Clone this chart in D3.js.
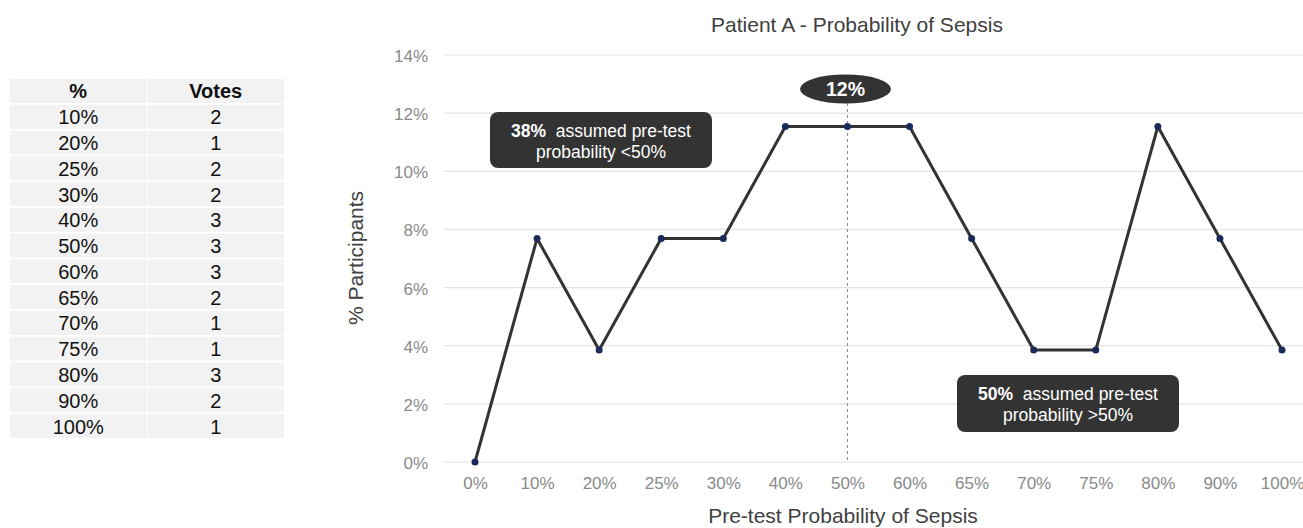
<!DOCTYPE html>
<html>
<head>
<meta charset="utf-8">
<script src="https://cdn.jsdelivr.net/npm/d3@7"></script>
<style>
html,body{margin:0;padding:0;background:#fff;}
svg{display:block;font-family:"Liberation Sans",Arial,Helvetica,sans-serif;}
</style>
</head>
<body>
<svg id="chart" width="1303" height="528"></svg>
<script>
// ---- data ----
const tableCategories = ["10%","20%","25%","30%","40%","50%","60%","65%","70%","75%","80%","90%","100%"];
const tableVotes = [2,1,2,2,3,3,3,2,1,1,3,2,1];
const xCategories = ["0%","10%","20%","25%","30%","40%","50%","60%","65%","70%","75%","80%","90%","100%"];
const participantsPct = [0, 7.69, 3.85, 7.69, 7.69, 11.54, 11.54, 11.54, 7.69, 3.85, 3.85, 11.54, 7.69, 3.85];
const yTicks = [0,2,4,6,8,10,12,14];
const peakLabel = "12%";
const markerCategory = "50%";
const annotations = [
  {bold:"38%", rest:"  assumed pre-test", line2:"probability <50%"},
  {bold:"50%", rest:"  assumed pre-test", line2:"probability >50%"}
];

const FONT = "Liberation Sans,Arial,sans-serif";
const svg = d3.select("#chart");

// ---- table ----
const tbl = svg.append("g");
const tX = d3.scaleBand().domain(["%","Votes"]).range([10,284]).paddingInner(0.0073);
const tRows = ["header"].concat(tableCategories);
const tY = d3.scaleBand().domain(tRows.map((d,i)=>i)).range([79,438]).paddingInner(0.07);
tRows.forEach((r,i)=>{
  ["%","Votes"].forEach(c=>{
    tbl.append("rect").attr("x",tX(c)).attr("y",tY(i)).attr("width",tX.bandwidth()).attr("height",tY.bandwidth()).attr("fill","#f2f2f2");
  });
  const isH = i===0;
  const vals = isH ? ["%","Votes"] : [tableCategories[i-1], String(tableVotes[i-1])];
  ["%","Votes"].forEach((c,j)=>{
    tbl.append("text").attr("x",tX(c)+tX.bandwidth()/2).attr("y",tY(i)+tY.bandwidth()/2+7.5)
      .attr("text-anchor","middle").attr("font-size",20).attr("font-weight",isH?"bold":"normal")
      .attr("fill","#111").text(vals[j]);
  });
});

// ---- chart ----
const x = d3.scalePoint().domain(xCategories).range([475,1282]);
const y = d3.scaleLinear().domain([0,14]).range([462,55]);

// gridlines
svg.append("g").selectAll("line").data(yTicks).join("line")
  .attr("x1",444).attr("x2",1303).attr("y1",d=>y(d)).attr("y2",d=>y(d))
  .attr("stroke","#e4e4e4").attr("stroke-width",1.2);

// y axis
const yAxis = d3.axisLeft(y).tickValues(yTicks).tickFormat(d=>d+"%").tickSize(0).tickPadding(0);
const yg = svg.append("g").attr("transform","translate(428,1)").call(yAxis);
yg.select(".domain").remove();
yg.selectAll("text").attr("font-size",17).attr("fill","#8a8a8a").attr("font-family",FONT);

// x axis
const xAxis = d3.axisBottom(x).tickSize(0).tickPadding(0);
const xg = svg.append("g").attr("transform","translate(0,477)").call(xAxis);
xg.select(".domain").remove();
xg.selectAll("text").attr("font-size",17).attr("fill","#8a8a8a").attr("font-family",FONT);

// titles
svg.append("text").attr("x",857).attr("y",32).attr("text-anchor","middle").attr("font-size",21).attr("fill","#404040").text("Patient A - Probability of Sepsis");
svg.append("text").attr("x",843).attr("y",523).attr("text-anchor","middle").attr("font-size",21).attr("fill","#404040").text("Pre-test Probability of Sepsis");
svg.append("text").attr("transform","translate(363,258) rotate(-90)").attr("text-anchor","middle").attr("font-size",21).attr("fill","#404040").text("% Participants");

// dashed marker
svg.append("line").attr("x1",x(markerCategory)).attr("x2",x(markerCategory)).attr("y1",103).attr("y2",y(0))
  .attr("stroke","#8a8a8a").attr("stroke-width",1).attr("stroke-dasharray","3,3");

// line
const pts = xCategories.map((c,i)=>[x(c), y(participantsPct[i])]);
svg.append("path").attr("d",d3.line()(pts)).attr("fill","none").attr("stroke","#333333").attr("stroke-width",3).attr("stroke-linejoin","round");
svg.append("g").selectAll("circle").data(pts).join("circle")
  .attr("cx",d=>d[0]).attr("cy",d=>d[1]).attr("r",3.5).attr("fill","#1a2a5a");

// peak ellipse
svg.append("ellipse").attr("cx",845.5).attr("cy",89).attr("rx",45.5).attr("ry",14.5).attr("fill","#333333");
svg.append("text").attr("x",845.5).attr("y",96).attr("text-anchor","middle").attr("font-size",19.5).attr("font-weight","bold").attr("fill","#fff").text(peakLabel);

// annotation boxes
const boxes = [{x:490,y:112,w:222,h:56},{x:957,y:375,w:222,h:57}];
annotations.forEach((a,i)=>{
  const b = boxes[i];
  svg.append("rect").attr("x",b.x).attr("y",b.y).attr("width",b.w).attr("height",b.h).attr("rx",8).attr("fill","#333333");
  const t1 = svg.append("text").attr("x",b.x+b.w/2).attr("y",b.y+25).attr("text-anchor","middle").attr("font-size",17.5).attr("fill","#fff").attr("xml:space","preserve").style("white-space","pre");
  t1.append("tspan").attr("font-weight","bold").text(a.bold);
  t1.append("tspan").text(a.rest);
  svg.append("text").attr("x",b.x+b.w/2).attr("y",b.y+46).attr("text-anchor","middle").attr("font-size",17.5).attr("fill","#fff").text(a.line2);
});
</script>
</body>
</html>
